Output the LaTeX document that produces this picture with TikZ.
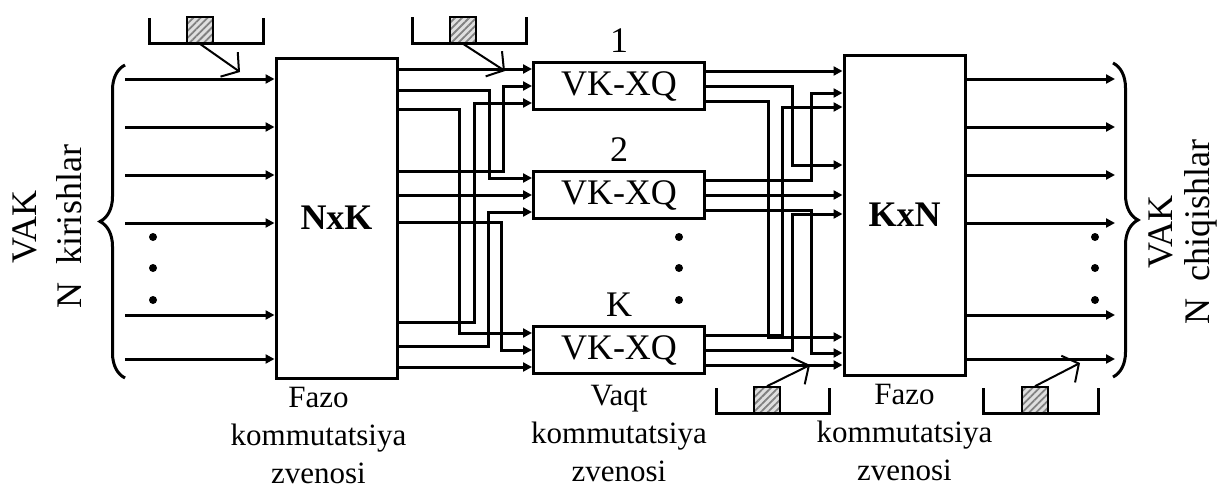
\documentclass[tikz,border=0pt]{standalone}
\usepackage{fontspec}
\setmainfont{Liberation Serif}
\usepackage{tikz}
\usetikzlibrary{arrows.meta, positioning, calc, patterns.meta, decorations.pathreplacing}
\tikzset{
    swbox/.style={rectangle, draw, line width=1.5pt, fill=white, inner sep=0pt,
        minimum width=60.5pt, minimum height=160pt,
        font=\fontsize{18}{22}\selectfont\bfseries},
    tsbox/.style={rectangle, draw, line width=1.5pt, fill=white, inner sep=0pt,
        minimum width=85.5pt, minimum height=23.5pt,
        font=\fontsize{18}{22}\selectfont},
    numlabel/.style={inner sep=0pt, font=\fontsize{18}{22}\selectfont},
    stagelabel/.style={inner sep=0pt, align=center, font=\fontsize{15.5}{19}\selectfont},
    sidelabel/.style={inner sep=0pt, align=center, rotate=90, font=\fontsize{18}{22.5}\selectfont},
    wire/.style={line width=1.5pt, -{Triangle[length=4.5pt, width=4.5pt]}},
    curly/.style={line width=1.5pt, decorate, decoration={brace, amplitude=12.5pt}},
    buffer/.style={line width=1.5pt},
    cell/.style={rectangle, draw, line width=0.8pt, minimum size=13pt, inner sep=0pt,
        preaction={fill=gray!25},
        pattern={Lines[angle=45, distance=2.5pt, line width=0.9pt]}, pattern color=gray},
    pointer/.style={line width=1pt, -{Straight Barb[length=6pt, width=15pt]}},
    vdot/.style={circle, fill, inner sep=0pt, minimum size=4pt},
}

\begin{document}
\begin{tikzpicture}[x=0.5pt, y=-0.5pt]
    \useasboundingbox (0,0) rectangle (1226,487);

    \node[swbox] (nxk) at (336.5,218) {NxK};
    \node[swbox] (kxn) at (904.5,215) {KxN};
    \node[tsbox] (q1) at (619,86) {VK-XQ};
    \node[tsbox] (q2) at (619,195) {VK-XQ};
    \node[tsbox] (qK) at (619,350) {VK-XQ};

    \foreach \b in {q1,q2,qK} {
        \coordinate (\b-i1) at ($(\b.west)+(0,-17)$);
        \coordinate (\b-i2) at (\b.west);
        \coordinate (\b-i3) at ($(\b.west)+(0,17)$);
        \coordinate (\b-o1) at ($(\b.east)+(0,-15)$);
        \coordinate (\b-o2) at (\b.east);
        \coordinate (\b-o3) at ($(\b.east)+(0,15)$);
    }

    \foreach \y in {79,127,175,223,315,359} {
        \coordinate (in\y) at (125,\y);
        \coordinate (out\y) at (1115,\y);
        \draw[wire] (in\y) -- (nxk.west |- in\y);
        \draw[wire] (kxn.east |- out\y) -- (out\y);
    }

    \draw[wire] (nxk.east |- q1-i1) -- (q1-i1);
    \draw[wire] (nxk.east |- 0,90) -- ++(91,0) |- (q2-i1);
    \draw[wire] (nxk.east |- 0,109) -- ++(61,0) |- (qK-i1);
    \draw[wire] (nxk.east |- 0,171) -- ++(105,0) |- (q1-i2);
    \draw[wire] (nxk.east |- q2-i2) -- (q2-i2);
    \draw[wire] (nxk.east |- 0,222) -- ++(103,0) |- (qK-i2);
    \draw[wire] (nxk.east |- 0,322) -- ++(76,0) |- (q1-i3);
    \draw[wire] (nxk.east |- 0,346) -- ++(90,0) |- (q2-i3);
    \draw[wire] (nxk.east |- qK-i3) -- (qK-i3);

    \draw[wire] (q1-o1) -- (kxn.west |- q1-o1);
    \draw[wire] (q1-o2) -- ++(86,0) |- (kxn.west |- 0,165);
    \draw[wire] (q1-o3) -- ++(62,0) |- (kxn.west |- 0,337);
    \draw[wire] (q2-o1) -- ++(105,0) |- (kxn.west |- 0,93);
    \draw[wire] (q2-o2) -- (kxn.west |- q2-o2);
    \draw[wire] (q2-o3) -- ++(105,0) |- (kxn.west |- 0,353);
    \draw[wire] (qK-o1) -- ++(76,0) |- (kxn.west |- 0,107);
    \draw[wire] (qK-o2) -- ++(86,0) |- (kxn.west |- 0,214);
    \draw[wire] (qK-o3) -- (kxn.west |- qK-o3);

    \draw[curly] (125,378) -- (125,65);
    \draw[curly] (1113,63) -- (1113,377);

    \foreach \y in {237,268,300} {
        \node[vdot] (dl\y) at (153,\y) {};
        \node[vdot] (dm\y) at (679,\y) {};
        \node[vdot] (dr\y) at (1095,\y) {};
    }

    \node[numlabel, above=4pt of q1] (n1) {1};
    \node[numlabel, above=4pt of q2] (n2) {2};
    \node[numlabel, above=4pt of qK] (nK) {K};

    \node[stagelabel, below=3.5pt of nxk, xshift=-9pt] (st1) {Fazo\\kommutatsiya\\zvenosi};
    \node[stagelabel, below=5pt of qK] (st2) {Vaqt\\kommutatsiya\\zvenosi};
    \node[stagelabel, below=3.5pt of kxn] (st3) {Fazo\\kommutatsiya\\zvenosi};

    \node[sidelabel] (lin) at (47,227) {VAK\\N\ \ kirishlar};
    \node[sidelabel, font=\fontsize{18}{18.5}\selectfont] (lout) at (1183,232) {VAK\\N\ \ chiqishlar};

    \foreach \n/\xa/\xb/\yt/\yb/\cx/\an/\px/\py in
        {1/149/263/18/43/200/south/240/72, 2/412/526/17/43/463/south/505/71,
         3/716/829/388/413/767/north/810/365, 4/983/1098/388/413/1035/north/1080/363} {
        \draw[buffer] (\xa,\yt) |- (\xb,\yb) -- (\xb,\yt);
        \node[cell] (c\n) at (\cx,\yb-13) {};
        \coordinate (p\n) at (\px,\py);
        \draw[pointer] (c\n.\an) -- (p\n);
    }
\end{tikzpicture}
\end{document}
